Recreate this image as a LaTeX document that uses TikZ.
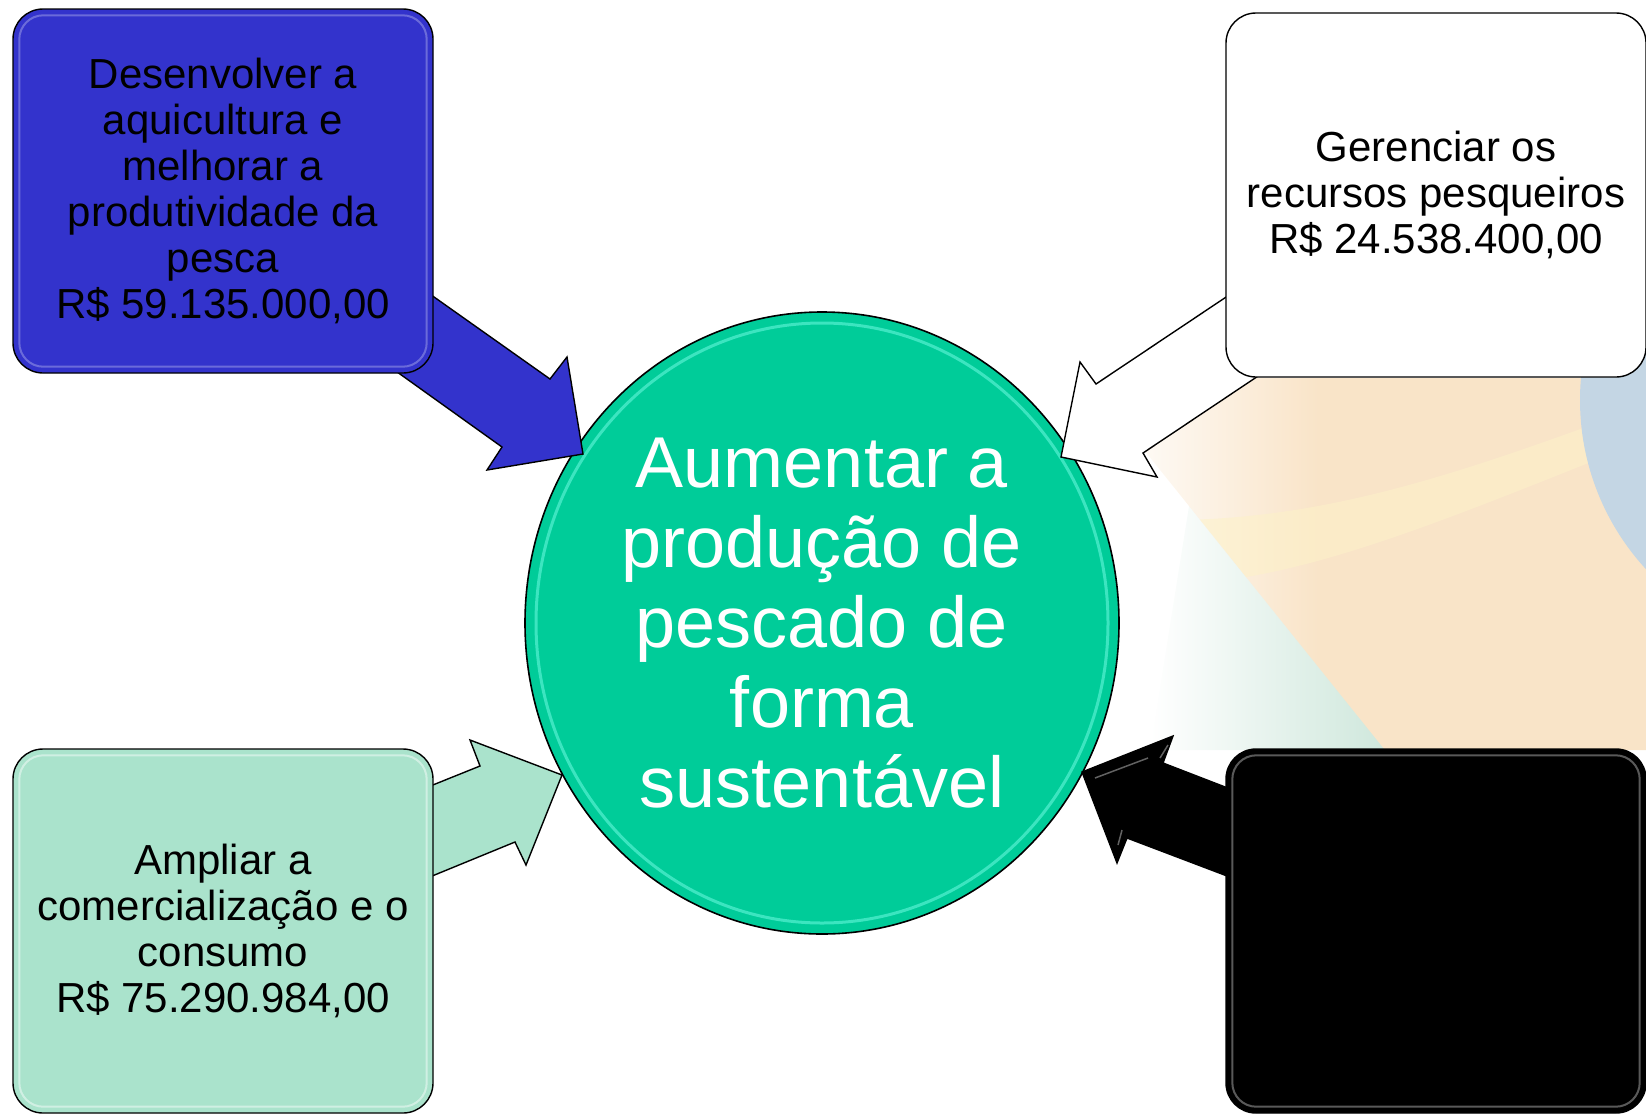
\documentclass[tikz,border=0pt]{standalone}
\usepackage{fontspec}
\setmainfont{Liberation Sans}
\usetikzlibrary{shapes.geometric}
\definecolor{boxblue}{RGB}{51,51,204}
\definecolor{circgreen}{RGB}{0,204,153}
\definecolor{mint}{RGB}{170,227,204}
\definecolor{peach}{RGB}{249,228,200}
\definecolor{creamy}{RGB}{253,242,200}
\definecolor{greenish}{RGB}{200,228,215}
\definecolor{bluebg}{RGB}{196,214,228}
\definecolor{ringcyan}{RGB}{110,250,225}
\pgfdeclarehorizontalshading{bgfade}{100bp}{color(0bp)=(white); color(25bp)=(white); color(45bp)=(peach); color(100bp)=(peach)}
\pgfdeclarehorizontalshading{greenfade}{100bp}{color(0bp)=(white); color(25bp)=(white); color(75bp)=(greenish); color(100bp)=(greenish)}
\tikzset{
  goalbox/.style={draw=black, line width=1.4pt, rounded corners=30pt, minimum width=420pt, minimum height=364pt, align=center, inner sep=0pt, font=\fontsize{42}{46}\selectfont},
  bevel/.style={line width=2pt, rounded corners=24pt},
  blockarrow/.style={draw=black, line width=1.4pt, line join=miter},
  hub/.style={draw=black, line width=1.6pt, ellipse, minimum width=594pt, minimum height=622pt, fill=circgreen, text=white, align=center, inner sep=0pt, font=\fontsize{72}{80}\selectfont}
}
\begin{document}
\begin{tikzpicture}[x=1pt,y=-1pt]
\useasboundingbox (0,0) rectangle (1646,1114);
\begin{scope}
\clip (0,0) rectangle (1646,1114);
% faint background picture
\shade[shading=greenfade] (1190,500) -- (1420,750) -- (1150,750) -- cycle;
\shade[shading=bgfade] (1100,378) -- (1646,378) -- (1646,750) -- (1385,750) -- (1140,445) -- cycle;
\begin{scope}
\clip (1100,378) -- (1646,378) -- (1646,750) -- (1385,750) -- (1140,445) -- cycle;
\fill[creamy, opacity=0.55] (1170,520) .. controls (1330,520) and (1470,470) .. (1646,405) -- (1646,440) .. controls (1470,510) and (1340,565) .. (1226,580) -- cycle;
\end{scope}
\fill[bluebg] (1830,400) circle (250);
\end{scope}
% central node
\node[hub] (c) at (822,623) {Aumentar a\\produção de\\pescado de\\forma\\sustentável};
\draw[draw=ringcyan, line width=3pt, opacity=0.55] (822,623) ellipse (286 and 300);
% block arrows
\draw[blockarrow, fill=boxblue] (386,263) -- (550,379) -- (567,357) -- (583,454) -- (487,470) -- (502,447) -- (351,339) -- cycle;
\draw[blockarrow, fill=white] (1283,259) -- (1096,384) -- (1080,362) -- (1061,457) -- (1157,477) -- (1143,453) -- (1297,350) -- cycle;
\draw[blockarrow, fill=mint] (398,799) -- (480,766) -- (470,740) -- (562,775) -- (526,865) -- (515,842) -- (398,890) -- cycle;
\draw[blockarrow, fill=black] (1264,802) -- (1163,763) -- (1173,736) -- (1082,772) -- (1117,863) -- (1127,838) -- (1264,890) -- cycle;
\draw[white!55!black, line width=1.5pt, opacity=0.7] (1160,758) -- (1168,745);
\draw[white!55!black, line width=1.5pt, opacity=0.7] (1095,778) -- (1148,758);
\draw[white!55!black, line width=1.5pt, opacity=0.7] (1118,845) -- (1122,830);
% goal boxes
\node[goalbox, fill=boxblue] (b1) at (223,191) {Desenvolver a\\aquicultura e\\melhorar a\\produtividade da\\pesca\\R\$ 59.135.000,00};
\node[goalbox, fill=white] (b2) at (1436,195) {Gerenciar os\\recursos pesqueiros\\R\$ 24.538.400,00};
\node[goalbox, fill=mint] (b3) at (223,931) {Ampliar a\\comercialização e o\\consumo\\R\$ 75.290.984,00};
\node[goalbox, fill=black] (b4) at (1436,931) {};
% bevel highlights
\draw[bevel, draw=white, opacity=0.28] ([xshift=7pt,yshift=-7pt]b1.north west) rectangle ([xshift=-7pt,yshift=7pt]b1.south east);
\draw[bevel, draw=white, opacity=0.45] ([xshift=7pt,yshift=-7pt]b3.north west) rectangle ([xshift=-7pt,yshift=7pt]b3.south east);
\draw[bevel, draw=gray, opacity=0.7] ([xshift=7pt,yshift=-7pt]b4.north west) rectangle ([xshift=-7pt,yshift=7pt]b4.south east);
\end{tikzpicture}
\end{document}
